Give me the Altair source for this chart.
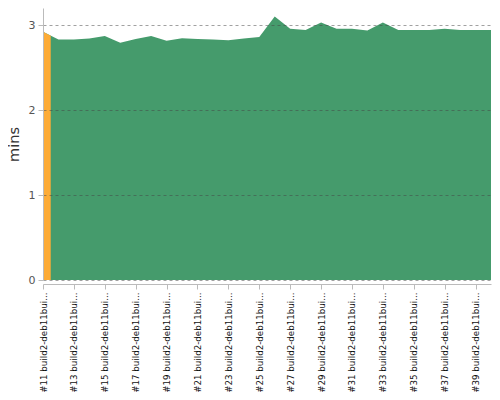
import altair as alt
import pandas as pd

# Build numbers (x categories)
builds = [11, 12, 13, 14, 15, 16, 17, 18, 19, 20,
          21, 22, 23, 24, 25, 26, 27, 28, 29, 30,
          31, 32, 33, 34, 35, 36, 37, 38, 39, 40]
# Build duration in minutes
minutes = [2.92, 2.83, 2.83, 2.84, 2.87, 2.79, 2.835, 2.87, 2.815, 2.845,
           2.835, 2.83, 2.82, 2.84, 2.86, 3.10, 2.955, 2.94, 3.03, 2.955,
           2.955, 2.935, 3.03, 2.94, 2.94, 2.94, 2.955, 2.94, 2.94, 2.94]
# Build result
status = ["unstable"] + ["success"] * 29
# Labelled builds (every other build carries a tick label)
labelled = [11, 13, 15, 17, 19, 21, 23, 25, 27, 29, 31, 33, 35, 37, 39]
label_suffix = " build2-deb11bui..."

df = pd.DataFrame({"build": builds, "mins": minutes})

# orange segments: half interval on each side of an unstable build
seg_rows = []
for i, s in enumerate(status):
    if s != "unstable":
        continue
    pts = []
    if i > 0:
        pts.append((builds[i] - 0.5, (minutes[i - 1] + minutes[i]) / 2))
    pts.append((builds[i], minutes[i]))
    if i < len(builds) - 1:
        pts.append((builds[i] + 0.5, (minutes[i] + minutes[i + 1]) / 2))
    for x, y in pts:
        seg_rows.append({"build": x, "mins": y, "seg": i})
seg = pd.DataFrame(seg_rows)

x_scale = alt.Scale(domain=[builds[0], builds[-1]], nice=False, zero=False)
common_axis = dict(
    tickColor="#bbb",
    tickSize=5,
    domainColor="#bbb",
    offset=4,
    grid=False,
    title=None,
)

x_label_axis = alt.Axis(
    values=labelled,
    labelExpr=f"'#' + datum.value + '{label_suffix}'",
    labelAngle=-90,
    labelFont="DejaVu Sans",
    labelFontSize=8.7,
    labelColor="#111",
    labelPadding=3,
    labelOverlap=False,
    labelLimit=200,
    **common_axis,
)
x_tick_axis = alt.Axis(values=builds, labels=False, **common_axis)

y_axis = alt.Axis(
    values=[0, 1, 2, 3],
    format="d",
    title="mins",
    titleFont="DejaVu Sans",
    titleFontSize=14.5,
    titleFontWeight="normal",
    titleColor="#333",
    titlePadding=7,
    labelFont="DejaVu Sans",
    labelFontSize=11,
    labelColor="#555",
    labelPadding=3,
    tickColor="#bbb",
    tickSize=5,
    domainColor="#bbb",
    grid=True,
    gridColor="#444",
    gridOpacity=0.5,
    gridDash=[3, 3],
    zindex=1,
)
y_scale = alt.Scale(domain=[0, 3.2], nice=False)

green = alt.Chart(df).mark_area(color="#459b6c", interpolate="linear").encode(
    x=alt.X("build:Q", scale=x_scale, axis=x_label_axis),
    y=alt.Y("mins:Q", scale=y_scale, axis=y_axis),
)
orange = alt.Chart(seg).mark_area(color="#fdab36", interpolate="linear").encode(
    x=alt.X("build:Q", scale=x_scale, axis=x_tick_axis),
    y=alt.Y("mins:Q", scale=y_scale, axis=y_axis),
    detail="seg:N",
)

chart = (
    alt.layer(green, orange)
    .resolve_axis(x="independent")
    .properties(
        width=448,
        height=272,
        autosize=alt.AutoSizeParams(type="none"),
        padding={"left": 35, "top": 0, "right": 1, "bottom": 112},
    )
    .configure_view(stroke=None)
)

chart.save("out.html", embed_options={"renderer": "svg", "actions": False})
